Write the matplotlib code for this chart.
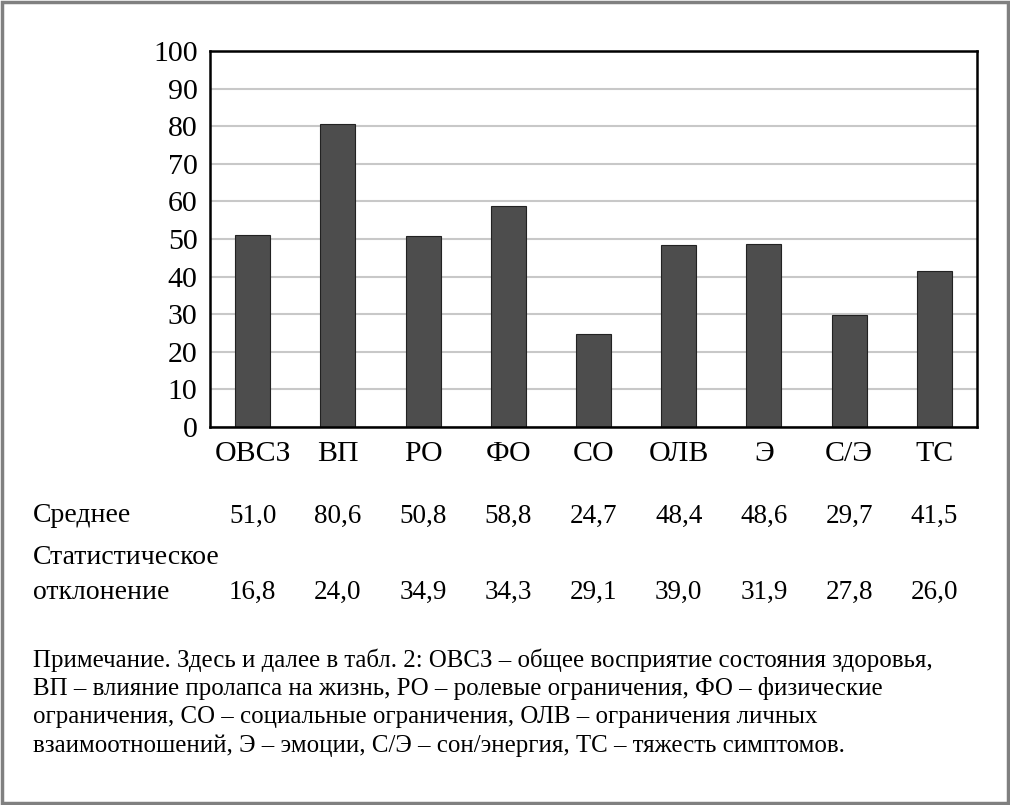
import matplotlib
matplotlib.use("Agg")
import matplotlib.pyplot as plt
import matplotlib.transforms as mtransforms
from matplotlib.patches import Rectangle

plt.rcParams['font.family'] = ['Liberation Serif', 'DejaVu Serif']

categories = ["ОВСЗ", "ВП", "РО", "ФО", "СО", "ОЛВ", "Э", "С/Э", "ТС"]
means = [51.0, 80.6, 50.8, 58.8, 24.7, 48.4, 48.6, 29.7, 41.5]
sds = [16.8, 24.0, 34.9, 34.3, 29.1, 39.0, 31.9, 27.8, 26.0]
yticks = [0, 10, 20, 30, 40, 50, 60, 70, 80, 90, 100]
row_labels = ["Среднее", "Статистическое", "отклонение"]
note_lines = [
    "Примечание. Здесь и далее в табл. 2: ОВСЗ – общее восприятие состояния здоровья,",
    "ВП – влияние пролапса на жизнь, РО – ролевые ограничения, ФО – физические",
    "ограничения, СО – социальные ограничения, ОЛВ – ограничения личных",
    "взаимоотношений, Э – эмоции, С/Э – сон/энергия, ТС – тяжесть симптомов.",
]

def fmt(v):
    return f"{v:.1f}".replace(".", ",")

fig = plt.figure(figsize=(10.1, 8.05), dpi=100)
ax = fig.add_axes([210/1010, 1-427/805, (977-210)/1010, (427-51)/805])

x = list(range(len(categories)))
ax.bar(x, means, width=0.41, color="#4d4d4d", edgecolor="#222222", linewidth=0.8, zorder=3)
ax.set_xlim(-0.5, len(categories)-0.5)
ax.set_ylim(0, 100)
ax.set_yticks(yticks)
ax.set_yticklabels([str(t) for t in yticks], fontsize=21.5)
ax.set_xticks(x)
ax.set_xticklabels(categories, fontsize=21.5)
ax.tick_params(axis='both', length=0)
ax.tick_params(axis='y', pad=9)
ax.tick_params(axis='x', pad=10)
ax.grid(axis='y', color="#c8c8c8", linewidth=1.5, zorder=0)
ax.set_axisbelow(True)
for s in ax.spines.values():
    s.set_linewidth(1.8)
    s.set_color("black")
    s.set_zorder(4)

trans = mtransforms.blended_transform_factory(ax.transData, fig.transFigure)
y_mean = 1 - 516/805
y_sd = 1 - 592/805
for xi, m, s in zip(x, means, sds):
    ax.text(xi, y_mean, fmt(m), transform=trans, ha='center', va='center', fontsize=19.5)
    ax.text(xi, y_sd, fmt(s), transform=trans, ha='center', va='center', fontsize=19.5)
fig.text(33/1010, y_mean, row_labels[0], ha='left', va='center', fontsize=20)
fig.text(33/1010, 1 - 557/805, row_labels[1], ha='left', va='center', fontsize=20)
fig.text(33/1010, y_sd, row_labels[2], ha='left', va='center', fontsize=20)

for i, line in enumerate(note_lines):
    fig.text(33/1010, 1 - (660 + i*28.7)/805, line, ha='left', va='center', fontsize=17.9)

fig.patches.append(Rectangle((0.0015, 0.002), 0.997, 0.996, transform=fig.transFigure,
                             fill=False, edgecolor="#808080", linewidth=2.5))

fig.savefig("out.png", dpi=100)
